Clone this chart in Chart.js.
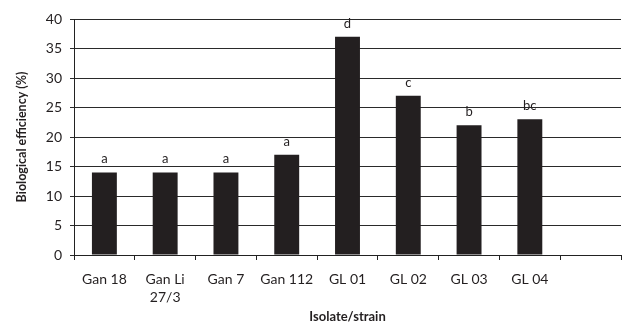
<!DOCTYPE html>
<html>
<head>
<meta charset="utf-8">
<script src="https://cdn.jsdelivr.net/npm/chart.js@4.4.1/dist/chart.umd.min.js"></script>
<style>
  html, body { margin: 0; padding: 0; background: #ffffff; }
  #wrap { width: 623px; height: 325px; }
</style>
</head>
<body>
<div id="wrap"><canvas id="c" width="623" height="325"></canvas></div>
<script>
// Isolates / strains on the x axis (the last slot is intentionally empty)
const categories = ['Gan 18', ['Gan Li', '27/3'], 'Gan 7', 'Gan 112', 'GL 01', 'GL 02', 'GL 03', 'GL 04', ''];
// Biological efficiency (%) per isolate
const efficiency = [14, 14, 14, 17, 37, 27, 22, 23, null];
// Significance group letters shown above each bar
const groupLetters = ['a', 'a', 'a', 'a', 'd', 'c', 'b', 'bc', ''];
// Y axis ticks
const yTicks = [0, 5, 10, 15, 20, 25, 30, 35, 40];

const FONT = 'Lato, "Open Sans", sans-serif';
const INK = '#231f20';

// Writes the group letter just above each bar
const letterPlugin = {
  id: 'groupLetters',
  afterDatasetsDraw(chart) {
    const ctx = chart.ctx;
    const meta = chart.getDatasetMeta(0);
    const yScale = chart.scales.y;
    ctx.save();
    ctx.font = '13px ' + FONT;
    ctx.fillStyle = INK;
    ctx.textAlign = 'center';
    ctx.textBaseline = 'alphabetic';
    meta.data.forEach((bar, i) => {
      const v = efficiency[i];
      if (v == null || !groupLetters[i]) return;
      ctx.fillText(groupLetters[i], bar.x, yScale.getPixelForValue(v) - 9);
    });
    ctx.restore();
  }
};

new Chart(document.getElementById('c'), {
  type: 'bar',
  data: {
    labels: categories,
    datasets: [{
      data: efficiency,
      backgroundColor: INK,
      borderWidth: 0,
      barPercentage: 0.41,
      categoryPercentage: 1.0
    }]
  },
  options: {
    responsive: false,
    animation: false,
    devicePixelRatio: 1,
    layout: { padding: { top: 19, right: 2, left: 14, bottom: 0 } },
    plugins: {
      legend: { display: false },
      tooltip: { enabled: false }
    },
    scales: {
      x: {
        offset: true,
        grid: {
          offset: true,
          drawOnChartArea: false,
          drawTicks: true,
          tickLength: 5,
          color: '#222'
        },
        border: { display: true, color: '#222', width: 1 },
        ticks: {
          color: INK,
          font: { family: FONT, size: 14, lineHeight: 1.3 },
          padding: 10,
          maxRotation: 0,
          autoSkip: false
        },
        title: {
          display: true,
          text: 'Isolate/strain',
          color: INK,
          font: { family: FONT, size: 13, weight: 'bold' },
          padding: { top: 0, bottom: 0 }
        },
        afterFit(scale) { scale.height = 70; }
      },
      y: {
        min: 0,
        max: 40,
        afterBuildTicks(scale) { scale.ticks = yTicks.map(v => ({ value: v })); },
        grid: {
          color: '#2a2a2a',
          lineWidth: 1,
          drawTicks: true,
          tickLength: 4
        },
        border: { display: true, color: '#222', width: 1 },
        ticks: {
          color: INK,
          font: { family: FONT, size: 14 },
          padding: 8
        },
        title: {
          display: true,
          text: 'Biological efficiency (%)',
          color: INK,
          font: { family: FONT, size: 12.5, weight: 'bold' },
          padding: { top: 0, bottom: 0 }
        },
        afterFit(scale) { scale.width = 60; }
      }
    }
  },
  plugins: [letterPlugin]
});
</script>
</body>
</html>
